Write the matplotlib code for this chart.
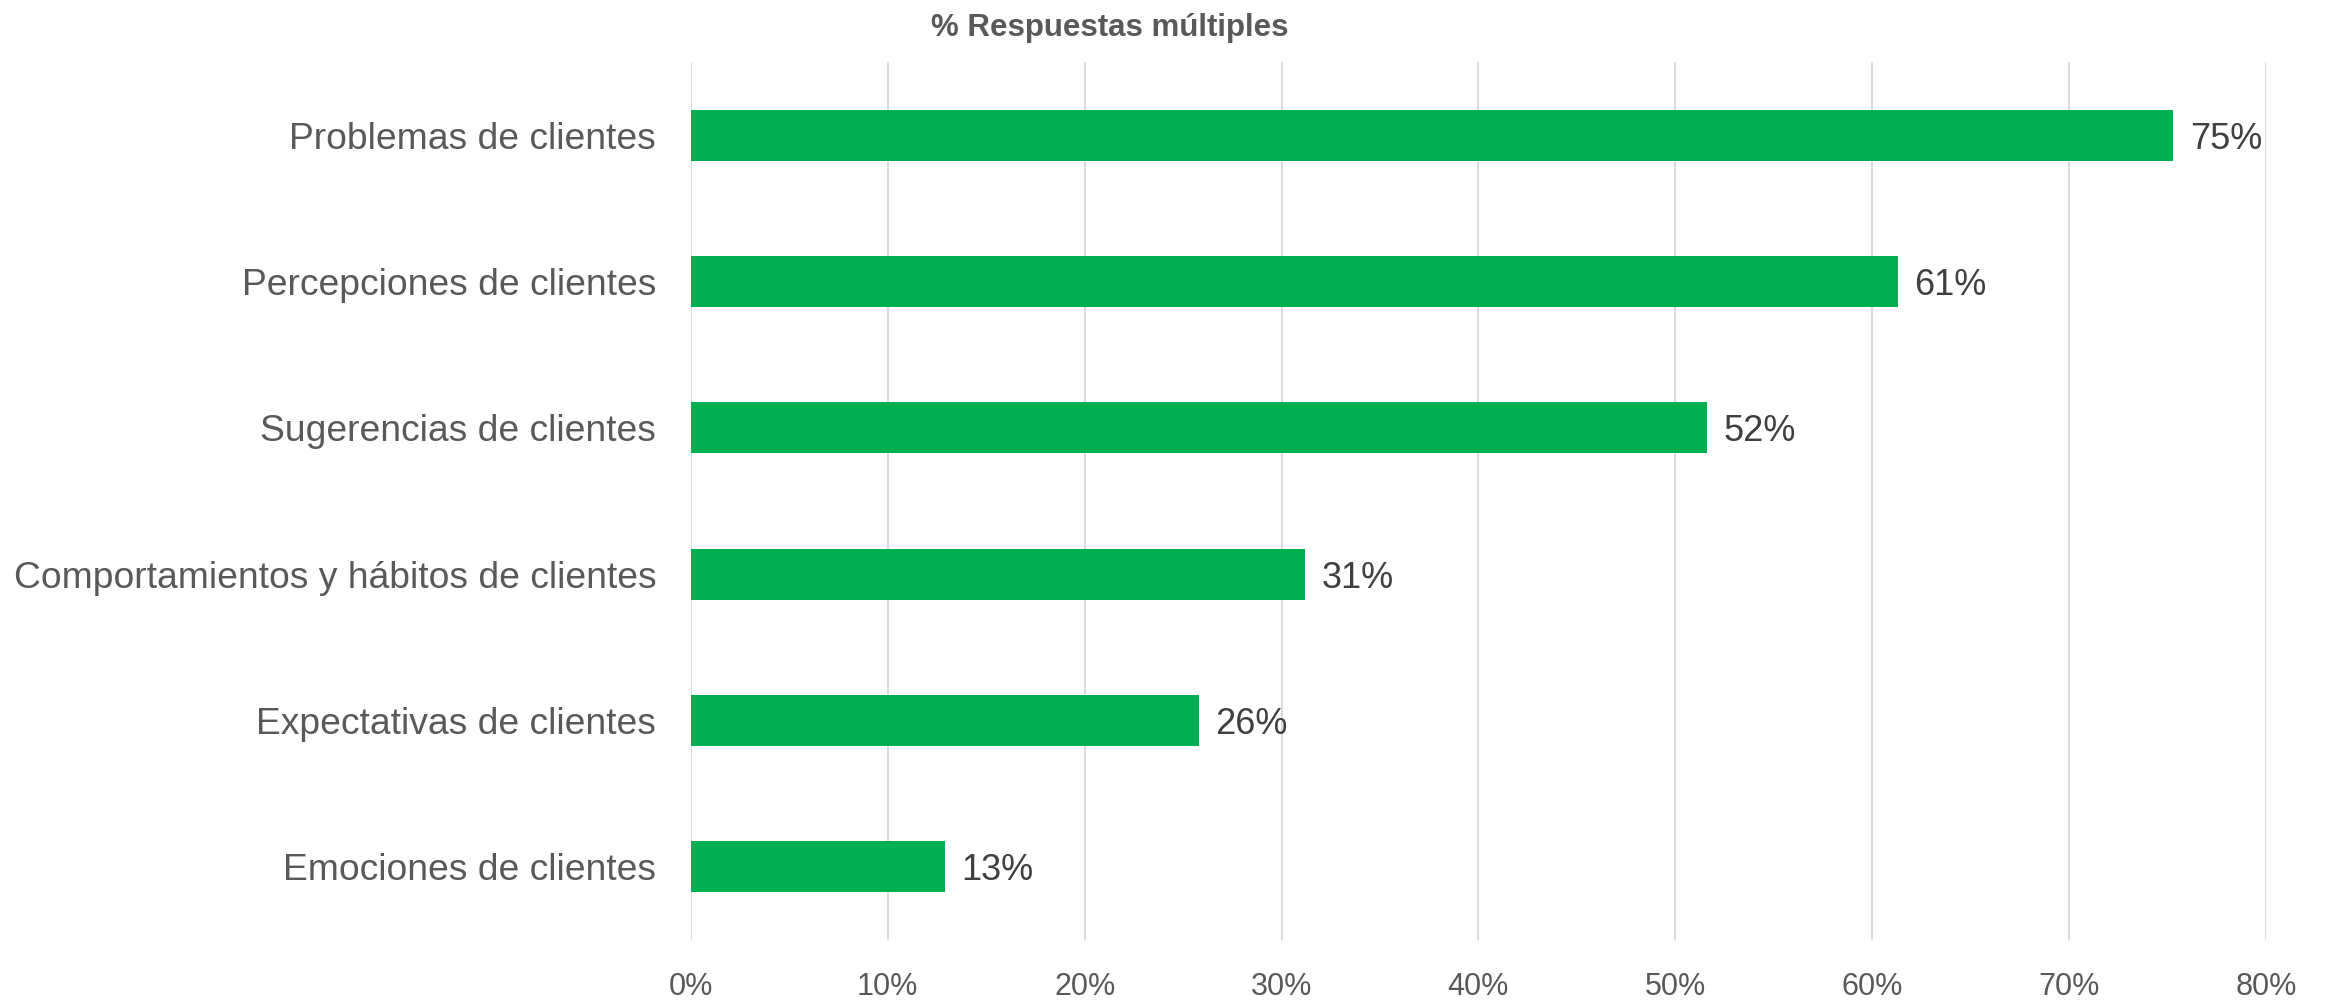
import matplotlib.pyplot as plt

plt.rcParams['font.family'] = ['Liberation Sans', 'DejaVu Sans']

categorias = [
    'Problemas de clientes',
    'Percepciones de clientes',
    'Sugerencias de clientes',
    'Comportamientos y hábitos de clientes',
    'Expectativas de clientes',
    'Emociones de clientes',
]
porcentajes = [75.3, 61.3, 51.6, 31.2, 25.8, 12.9]
etiquetas = ['75%', '61%', '52%', '31%', '26%', '13%']
ticks_x = [0, 10, 20, 30, 40, 50, 60, 70, 80]

fig = plt.figure(figsize=(23.31, 10), dpi=100)
ax = fig.add_axes([0.2964, 0.06, 0.6757, 0.878])

pos = list(range(len(categorias)))
barras = ax.barh(pos, porcentajes, height=0.35, color='#00B050', zorder=3)

# etiqueta de valor a la derecha de cada barra
for b, txt in zip(barras, etiquetas):
    ax.annotate(txt, (b.get_width(), b.get_y() + b.get_height() / 2),
                xytext=(12, 0), textcoords='offset points',
                va='center_baseline', ha='left', fontsize=26, color='#404040')

ax.set_ylim(5.5, -0.5)
ax.set_xlim(0, 80)
ax.set_yticks(pos)
ax.set_yticklabels(categorias, fontsize=26.8, color='#595959')
ax.set_xticks(ticks_x)
ax.set_xticklabels([f'{t}%' for t in ticks_x], fontsize=22, color='#595959')
ax.tick_params(axis='y', length=0, pad=25)
ax.tick_params(axis='x', length=0, pad=23)

ax.grid(axis='x', color='#D9D9D9', linewidth=1.3, zorder=0)
for s in ax.spines.values():
    s.set_visible(False)

fig.text(0.476, 0.964, '% Respuestas múltiples', ha='center', va='baseline',
         fontsize=22.5, fontweight='bold', color='#595959')

fig.savefig('out.png', dpi=100)
